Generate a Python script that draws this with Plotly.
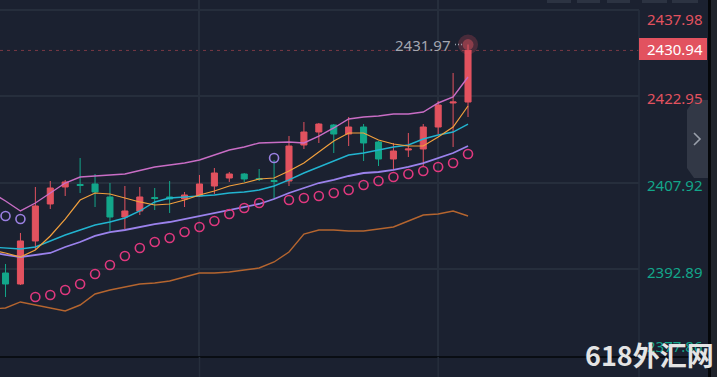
import plotly.graph_objects as go

# ---------------- data ----------------
candle_idx = list(range(32))
opens  = [2392.19, 2390.28, 2397.77, 2404.21, 2407.17, 2407.60, 2407.69, 2405.43,
          2401.94, 2402.99, 2405.34, 2405.43, 2405.08, 2405.60, 2407.34, 2408.73,
          2409.43, 2408.65, 2408.30, 2408.21, 2414.48, 2416.74, 2417.96, 2416.39,
          2417.61, 2415.00, 2412.04, 2413.61, 2413.78, 2417.61, 2421.79, 2421.96]
highs  = [2393.76, 2399.16, 2407.17, 2408.21, 2408.39, 2412.21, 2409.43, 2407.86,
          2407.34, 2407.17, 2406.99, 2408.21, 2406.30, 2409.26, 2410.47, 2409.78,
          2409.60, 2410.30, 2411.87, 2416.04, 2418.48, 2418.31, 2418.13, 2419.35,
          2418.13, 2415.17, 2414.83, 2416.57, 2418.13, 2422.14, 2427.01, 2431.97]
lows   = [2388.02, 2390.11, 2396.20, 2403.34, 2405.60, 2406.12, 2403.68, 2399.51,
          2399.85, 2402.29, 2403.16, 2402.64, 2403.68, 2405.43, 2405.95, 2408.04,
          2408.04, 2408.21, 2405.08, 2407.34, 2413.78, 2414.83, 2413.08, 2414.30,
          2411.69, 2410.82, 2410.13, 2412.39, 2410.65, 2416.39, 2414.13, 2419.35]
closes = [2390.28, 2397.77, 2403.86, 2406.99, 2408.04, 2407.43, 2406.30, 2401.94,
          2402.99, 2405.43, 2405.16, 2405.08, 2405.77, 2407.69, 2409.60, 2409.43,
          2408.56, 2408.47, 2408.12, 2414.30, 2416.74, 2418.13, 2416.39, 2417.61,
          2414.83, 2412.04, 2413.43, 2413.78, 2417.61, 2421.44, 2421.96, 2430.94]

line_idx = list(range(-1, 32))
upper_band = [2406.30, 2404.73, 2402.99, 2404.38, 2406.12, 2407.86, 2408.91, 2409.08,
              2409.26, 2409.43, 2410.04, 2410.65, 2411.00, 2411.34, 2411.87, 2412.74,
              2413.61, 2414.13, 2414.83, 2414.91, 2415.00, 2414.83, 2416.04, 2417.44,
              2419.00, 2419.35, 2419.53, 2419.87, 2419.87, 2420.22, 2421.79, 2422.83,
              2426.32]
ma_fast = [2396.20, 2395.68, 2394.98, 2396.20, 2398.64, 2401.59, 2404.90, 2406.12,
           2405.95, 2405.25, 2404.56, 2404.03, 2404.21, 2404.90, 2405.77, 2406.47,
           2407.34, 2407.86, 2408.56, 2408.73, 2409.95, 2411.34, 2413.26, 2415.17,
           2416.57, 2416.57, 2415.35, 2414.65, 2414.30, 2414.30, 2415.87, 2417.61,
           2421.27]
ma_mid = [2396.72, 2396.55, 2396.37, 2396.72, 2397.77, 2398.81, 2399.68, 2400.55,
          2401.07, 2401.77, 2402.99, 2404.56, 2405.25, 2405.43, 2405.60, 2405.77,
          2406.12, 2406.30, 2406.64, 2407.34, 2408.39, 2409.60, 2410.65, 2411.69,
          2412.74, 2413.08, 2413.61, 2414.13, 2414.48, 2415.52, 2416.22, 2416.74,
          2418.13]
ma_slow = [2395.85, 2395.33, 2394.98, 2395.33, 2395.68, 2396.72, 2397.59, 2398.64,
           2399.33, 2399.68, 2400.20, 2400.72, 2401.07, 2401.59, 2402.12, 2402.64,
           2403.16, 2403.68, 2404.21, 2405.08, 2406.12, 2406.99, 2407.86, 2408.39,
           2409.08, 2409.60, 2409.78, 2410.13, 2410.65, 2411.34, 2412.21, 2413.08,
           2414.30]
lower_line = [2385.93, 2386.10, 2387.15, 2386.62, 2386.10, 2385.58, 2386.62, 2388.54,
              2389.24, 2389.76, 2390.28, 2390.45, 2390.80, 2391.50, 2392.19, 2392.19,
              2392.37, 2392.72, 2393.06, 2394.11, 2395.85, 2398.98, 2399.68, 2399.68,
              2399.51, 2399.51, 2399.85, 2400.20, 2401.25, 2402.29, 2402.47, 2402.99,
              2402.12]
sar = [2402.12, 2401.59, 2388.02, 2388.36, 2389.24, 2390.28, 2392.02, 2393.59,
       2395.15, 2396.55, 2397.59, 2398.29, 2399.33, 2400.20, 2401.25, 2402.47,
       2403.51, 2404.38, 2412.21, 2404.90, 2405.25, 2405.60, 2406.12, 2406.64,
       2407.51, 2408.21, 2408.91, 2409.43, 2409.95, 2410.65, 2411.34, 2412.91]

price_ticks = [2437.98, 2422.95, 2407.92, 2392.89, 2377.86]
price_tick_text = ["2437.98", "2422.95", "2407.92", "2392.89", "2377.86"]
last_price = 2430.94
last_price_text = "2430.94"
high_price = 2431.97
high_price_text = "2431.97"
time_grid = [13, 29]

# ---------------- styles ----------------
BG = "#1b2130"
GRID = "#262e3c"
RED = "#e2525f"
GREEN = "#13a68a"
TICK_COLORS = [RED, RED, GREEN, GREEN, GREEN]
W, H = 717, 377
ML, MR, MT, MB = 0, 78, 0, 20
PW, PH = W - ML - MR, H - MT - MB


def px(x):
    return (x - ML) / PW


def py(y):
    return 1 - (y - MT) / PH


fig = go.Figure()

fig.add_trace(go.Candlestick(
    x=candle_idx, open=opens, high=highs, low=lows, close=closes,
    increasing=dict(line=dict(color=RED, width=1), fillcolor=RED),
    decreasing=dict(line=dict(color=GREEN, width=1), fillcolor=GREEN),
    whiskerwidth=0, hoverinfo="skip", showlegend=False,
))

for vals, col, w in [(lower_line, "#b5652f", 1.4), (upper_band, "#c96dc5", 1.4),
                     (ma_slow, "#9b82ec", 1.8), (ma_mid, "#22b4d0", 1.4),
                     (ma_fast, "#f2a03d", 1.2)]:
    fig.add_trace(go.Scatter(x=line_idx, y=vals, mode="lines",
                             line=dict(color=col, width=w), hoverinfo="skip",
                             showlegend=False))

sar_below_x = [i for i, s, c in zip(candle_idx, sar, closes) if s <= c]
sar_below_y = [s for s, c in zip(sar, closes) if s <= c]
sar_above_x = [i for i, s, c in zip(candle_idx, sar, closes) if s > c]
sar_above_y = [s for s, c in zip(sar, closes) if s > c]
fig.add_trace(go.Scatter(x=sar_below_x, y=sar_below_y, mode="markers",
                         marker=dict(symbol="circle-open", size=9, color="#e0387e",
                                     line=dict(width=1.6)),
                         hoverinfo="skip", showlegend=False))
fig.add_trace(go.Scatter(x=sar_above_x, y=sar_above_y, mode="markers",
                         marker=dict(symbol="circle-open", size=9, color="#9b80e2",
                                     line=dict(width=1.6)),
                         hoverinfo="skip", showlegend=False))

# glow at the latest high
fig.add_trace(go.Scatter(x=[candle_idx[-1]], y=[high_price], mode="markers",
                         marker=dict(size=20, color="rgba(235,80,95,0.22)"),
                         hoverinfo="skip", showlegend=False))
fig.add_trace(go.Scatter(x=[candle_idx[-1]], y=[high_price], mode="markers",
                         marker=dict(size=11, color="rgba(240,90,100,0.40)"),
                         hoverinfo="skip", showlegend=False))

shapes = []
# last price dashed line
shapes.append(dict(type="line", xref="paper", yref="y", x0=0, x1=1,
                   y0=last_price, y1=last_price,
                   line=dict(color="#7a3945", width=1, dash="3px,4px"), layer="below"))
# right axis separator
shapes.append(dict(type="line", xref="paper", yref="paper", x0=1, x1=1,
                   y0=py(10), y1=py(377), line=dict(color=GRID, width=1.5)))
# bottom black line
shapes.append(dict(type="line", xref="paper", yref="paper", x0=0, x1=px(708),
                   y0=py(357), y1=py(357), line=dict(color="#05070a", width=1.5)))
# vertical grid extension in bottom strip
for t in time_grid:
    shapes.append(dict(type="line", xref="x", yref="paper", x0=t, x1=t,
                       y0=py(357), y1=py(377), line=dict(color=GRID, width=1.5)))
# right black strip
shapes.append(dict(type="rect", xref="paper", yref="paper", x0=px(708), x1=px(711),
                   y0=py(0), y1=py(377), fillcolor="#05070a", line=dict(width=0)))
shapes.append(dict(type="rect", xref="paper", yref="paper", x0=px(711), x1=px(717),
                   y0=py(0), y1=py(377), fillcolor="#1f232b", line=dict(width=0)))
# top toolbar buttons
for a, b in [(547, 571), (577, 600), (607, 630), (642, 667), (672, 698)]:
    shapes.append(dict(type="rect", xref="paper", yref="paper", x0=px(a), x1=px(b),
                       y0=py(-3), y1=py(3), fillcolor="#2c3342", line=dict(width=0)))
# side ">" tab
tab = "M {} {} L {} {} L {} {} L {} {} L {} {} L {} {} Z".format(
    px(708), py(100), px(694), py(100), px(687), py(110),
    px(687), py(168), px(694), py(178), px(708), py(178))
shapes.append(dict(type="path", xref="paper", yref="paper", path=tab,
                   fillcolor="#323846", line=dict(width=0)))
chev = "M {} {} L {} {} L {} {}".format(px(694), py(133), px(700), py(139),
                                        px(694), py(145))
shapes.append(dict(type="path", xref="paper", yref="paper", path=chev,
                   line=dict(color="#9aa0ab", width=1.6)))
# last price tag
shapes.append(dict(type="rect", xref="paper", yref="paper", x0=px(639), x1=px(707),
                   y0=py(60), y1=py(38), fillcolor=RED, line=dict(width=0)))
# dotted leader after high label
shapes.append(dict(type="line", xref="paper", yref="y", x0=px(455), x1=px(464),
                   y0=high_price, y1=high_price,
                   line=dict(color="#9aa0aa", width=1.5, dash="1px,2px")))

annotations = []
shifts = [-9, -2, -2, -3, 9]
for v, txt, col, s in zip(price_ticks, price_tick_text, TICK_COLORS, shifts):
    annotations.append(dict(x=px(645), y=v, xref="paper", yref="y", text=txt,
                            showarrow=False, xanchor="left", yanchor="middle",
                            yshift=s, font=dict(family="Noto Sans", size=15, color=col)))
annotations.append(dict(x=px(645), y=py(49), xref="paper", yref="paper",
                        text=last_price_text, showarrow=False, xanchor="left",
                        yanchor="middle",
                        font=dict(family="Noto Sans", size=15, color="#ffffff")))
annotations.append(dict(x=30.0, y=high_price, xref="x", yref="y", text=high_price_text,
                        showarrow=False, xanchor="right", yanchor="middle", yshift=0,
                        font=dict(family="Noto Sans", size=15, color="#a3a7b0")))
annotations.append(dict(x=px(649), y=py(354), xref="paper", yref="paper",
                        text="<b>618外汇网</b>", showarrow=False, xanchor="center",
                        yanchor="middle",
                        font=dict(family="Noto Sans CJK SC", size=27, color="#e4e4e4")))

fig.update_layout(
    width=W, height=H,
    margin=dict(l=ML, r=MR, t=MT, b=MB),
    paper_bgcolor=BG, plot_bgcolor=BG,
    boxgap=0.42,
    showlegend=False,
    xaxis=dict(range=[-0.37, 42.46], rangeslider=dict(visible=False),
               showticklabels=False, tickvals=time_grid, showgrid=True,
               gridcolor=GRID, gridwidth=1.5, zeroline=False, showline=False,
               fixedrange=True),
    yaxis=dict(range=[2377.57, 2439.72], showticklabels=False,
               tickvals=price_ticks[:4], showgrid=True, gridcolor=GRID, gridwidth=1.5,
               zeroline=False, showline=False, side="right", fixedrange=True),
    shapes=shapes,
    annotations=annotations,
)

fig.write_html("out.html", config={"displayModeBar": False},
               post_script="document.body.style.margin='0';"
                           "document.body.style.background='" + BG + "';")
